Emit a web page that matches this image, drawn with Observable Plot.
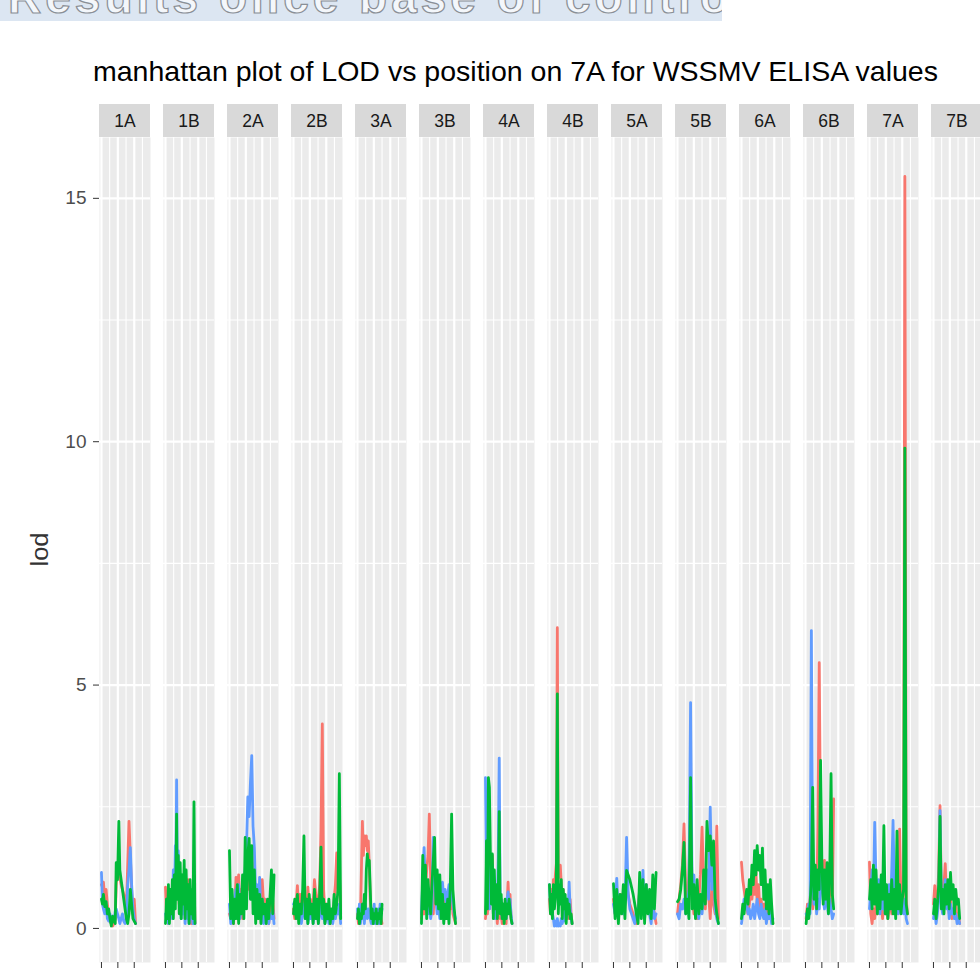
<!DOCTYPE html>
<html><head><meta charset="utf-8">
<script src="https://cdn.jsdelivr.net/npm/d3@7"></script>
<script src="https://cdn.jsdelivr.net/npm/@observablehq/plot@0.6"></script>
<style>
html,body{margin:0;padding:0;background:#fff}
body{width:980px;height:979px;overflow:hidden;position:relative;font-family:"Liberation Sans",Arial,sans-serif}
#banner{position:absolute;left:0;top:0;width:722px;height:21px;background:#dce6f2;overflow:hidden}
#banner span{position:absolute;left:8px;top:-30px;font-size:46px;font-weight:bold;letter-spacing:4px;color:#f4f7fb;-webkit-text-stroke:1.2px #8a8f96;white-space:nowrap}
#title{position:absolute;left:93px;top:58px;font-size:28px;line-height:1;color:#000;white-space:nowrap;transform-origin:0 0}
#ylab{position:absolute;left:40px;top:549px;font-size:23px;line-height:1;color:#333;white-space:nowrap}
#chart{position:absolute;left:0;top:0}
#chart svg{max-width:none}
</style></head>
<body>
<div id="banner"><span>Results once base of control</span></div>
<div id="chart"></div>
<div id="title">manhattan plot of LOD vs position on 7A for WSSMV ELISA values</div>
<div id="ylab">lod</div>
<script>
const chromosomes = ["1A","1B","2A","2B","3A","3B","4A","4B","5A","5B","6A","6B","7A","7B"];
const seriesNames = ["series 1","series 2","series 3"];
const seriesColors = ["#F8766D","#00BA38","#619CFF"];
const yTicks = [0,5,10,15];
const yMinor = [2.5,7.5,12.5];
const xTicks = [0,250,500];
const xMinor = [125,375,625];

// positions (Mb) and LOD values per chromosome: s1 = red, s2 = green, s3 = blue
const pos1A = [0,15,30,50,70,90,110,130,150,170,190,210,225,245,265,280,300,320,340,360,380,400,420,440,460,480,500,520];
const s1_1A = [0.9,0.85,0.95,0.6,0.8,0.5,0.3,0.15,0.1,0.05,0.1,0.2,0.9,1.3,1.2,1.05,0.9,0.8,0.7,0.55,0.45,1.3,2.2,1.5,0.8,0.3,0.6,0.1];
const s2_1A = [0.6,0.5,0.7,0.45,0.55,0.3,0.4,0.2,0.05,0.25,0.15,0.1,1.35,1.0,2.2,1.2,1.0,0.8,0.6,0.4,0.2,0.1,0.3,0.8,0.5,0.2,0.15,0.1];
const s3_1A = [1.15,0.5,0.4,0.3,0.55,0.2,0.15,0.3,0.1,0.25,0.15,0.35,0.4,0.3,0.2,0.1,0.2,0.3,0.15,0.1,0.2,0.9,1.2,1.66,0.9,0.4,0.2,0.1];

const pos1B = [0,15,30,45,60,75,90,105,120,135,150,160,170,180,195,210,225,240,255,270,285,300,315,330,345,360,375,390,405,420,435,450];
const s1_1B = [0.85,0.3,0.5,0.1,0.6,0.2,0.7,0.3,0.8,0.4,0.9,1.3,1.6,1.0,1.2,0.5,0.9,0.3,1.0,0.4,0.8,0.2,0.6,0.3,1.0,0.2,0.7,0.1,0.5,0.3,1.1,0.1];
const s2_1B = [0.1,0.6,0.2,0.9,0.1,0.8,0.3,1.0,0.2,1.1,0.4,1.2,2.35,0.6,1.5,0.3,1.35,0.2,1.1,0.5,1.4,0.2,1.2,0.4,0.9,0.1,1.0,0.3,0.8,0.2,2.6,0.1];
const s3_1B = [0.3,0.2,0.6,0.1,0.5,0.3,0.8,0.2,1.2,0.5,1.7,1.5,3.05,1.3,1.6,0.6,0.9,0.2,0.7,0.3,0.6,0.1,0.5,0.2,0.4,0.1,0.3,0.2,0.4,0.1,0.3,0.1];

const pos2A = [0,20,40,60,80,100,120,140,160,180,200,220,240,260,280,300,320,340,360,380,400,420,440,460,480,500,520,540,560,580,600,620,640,660,680];
const s1_2A = [0.3,0.2,0.6,0.1,0.4,1.05,0.5,1.1,0.3,0.8,0.2,0.9,0.5,1.3,0.8,1.5,1.0,1.6,0.7,1.1,0.3,0.7,0.2,0.8,0.3,1.0,0.5,0.6,0.2,0.4,0.1,0.5,0.3,0.6,0.2];
const s2_2A = [1.6,0.2,0.8,0.1,0.6,0.2,0.9,0.1,0.7,0.3,1.1,0.2,1.87,0.4,1.5,1.85,0.6,1.7,0.3,1.2,0.1,0.8,0.2,0.7,0.1,0.6,0.3,0.5,0.1,0.6,0.2,0.7,1.2,0.3,1.1];
const s3_2A = [0.5,0.1,0.4,0.2,0.6,0.8,0.3,0.9,0.2,0.5,0.4,1.0,1.2,1.7,2.7,2.3,3.0,3.55,2.1,1.65,0.6,0.9,0.3,1.05,0.2,0.6,0.1,0.4,0.2,0.5,0.1,0.3,0.2,0.4,0.1];

const pos2B = [0,20,40,60,80,100,120,140,160,180,200,220,240,260,280,300,320,340,360,380,400,420,440,460,480,500,520,540,560,580,600,620,640,660,680,700,720];
const s1_2B = [0.4,0.2,0.5,0.88,0.3,0.7,0.2,0.6,0.3,0.5,0.2,0.85,0.4,0.6,0.2,0.5,1.0,0.7,0.3,0.6,0.9,2.0,4.2,0.8,0.3,0.5,0.2,0.4,0.1,0.3,0.2,0.6,0.9,1.55,0.7,1.2,0.3];
const s2_2B = [0.3,0.6,0.2,0.7,0.1,0.5,0.3,0.8,1.9,0.2,0.6,0.1,0.7,0.3,0.5,0.1,0.8,0.2,0.6,0.1,0.7,1.67,0.3,0.6,0.1,0.5,0.2,0.6,0.1,0.4,0.2,0.7,0.3,0.5,0.8,3.18,0.2];
const s3_2B = [0.5,0.55,0.3,0.6,0.2,0.4,0.1,0.3,0.5,0.2,0.4,0.1,0.3,0.2,0.5,0.1,0.3,0.2,0.4,0.1,0.3,0.5,0.2,0.3,0.1,0.2,0.4,0.1,0.3,0.2,0.1,0.3,0.2,0.4,0.3,0.5,0.1];

const pos3A = [0,15,30,45,60,75,90,105,120,135,150,165,180,195,210,225,240,255,270,285,300,315,330,345,360,375];
const s1_3A = [0.3,0.1,0.4,0.2,1.2,2.2,1.5,1.9,1.7,1.9,1.6,1.8,1.3,0.6,0.3,0.1,0.3,0.2,0.4,0.1,0.3,0.2,0.1,0.3,0.2,0.1];
const s2_3A = [0.2,0.4,0.1,0.3,0.2,0.5,0.3,0.7,0.4,1.2,1.53,1.3,1.4,0.8,0.2,0.4,0.1,0.3,0.2,0.4,0.1,0.3,0.2,0.4,0.1,0.5];
const s3_3A = [0.4,0.2,0.5,0.1,0.3,0.2,0.4,0.1,0.5,0.3,0.2,0.4,0.3,0.2,0.1,0.3,0.2,0.5,0.1,0.3,0.2,0.4,0.1,0.5,0.3,0.4];

const pos3B = [0,20,40,60,80,100,120,140,160,180,200,220,240,260,280,300,320,340,360,380,400,420,440,460,480,500,520];
const s1_3B = [0.2,0.5,0.3,0.8,1.2,1.5,2.35,1.0,0.6,0.3,0.8,1.2,0.7,1.0,0.4,0.9,0.3,0.6,0.2,0.5,0.3,0.7,0.4,0.9,0.3,0.2,0.1];
const s2_3B = [0.1,1.5,0.4,1.3,0.2,1.0,0.6,0.3,0.9,1.4,1.87,0.5,1.2,0.4,1.1,0.2,0.7,0.1,0.5,0.2,0.6,0.1,0.9,2.35,0.8,0.4,0.1];
const s3_3B = [0.3,1.0,1.66,0.8,0.5,0.3,0.6,0.2,0.4,1.87,1.2,0.6,0.3,0.5,0.2,0.7,0.95,0.6,0.8,0.5,0.7,0.9,0.6,0.8,0.5,0.3,0.2];

const pos4A = [0,15,30,45,60,75,90,105,120,135,150,165,180,195,210,225,240,255,270,285,300,315,330,345,360,375,390,405];
const s1_4A = [0.2,0.5,0.3,0.8,0.4,1.2,0.6,1.5,0.3,0.9,0.2,0.7,0.1,0.4,0.6,0.2,0.3,0.1,0.4,0.2,0.3,0.1,0.5,0.95,0.4,0.7,0.2,0.1];
const s2_4A = [0.3,1.8,0.4,3.1,2.9,1.5,0.5,1.53,0.2,1.2,0.4,0.9,0.2,0.6,2.4,0.3,0.7,0.2,0.5,0.1,0.6,0.2,0.5,0.3,0.6,0.4,0.2,0.1];
const s3_4A = [3.1,1.2,0.5,1.0,0.4,1.5,0.7,1.3,0.3,0.8,0.2,0.6,0.3,1.5,3.5,0.4,0.6,0.2,0.5,0.3,0.4,0.2,0.6,0.75,0.4,0.6,0.3,0.1];

const pos4B = [0,15,30,45,60,75,90,105,120,135,150,165,180,195,210,225,240,255,270,285,300,315,330,345];
const s1_4B = [0.6,0.3,0.8,0.5,1.0,0.7,1.1,1.33,6.18,1.2,1.05,1.3,0.9,0.6,0.8,0.4,0.6,0.3,0.5,0.2,0.4,0.6,0.3,0.1];
const s2_4B = [0.9,0.3,0.7,0.2,0.9,0.4,0.6,1.0,4.82,0.3,0.9,0.5,1.0,0.2,0.8,0.4,0.7,0.1,0.6,0.3,0.5,0.2,0.3,0.1];
const s3_4B = [0.9,0.5,0.6,0.3,0.2,0.05,0.15,0.05,0.2,0.05,0.1,0.05,0.2,0.1,0.3,0.15,0.4,0.2,0.5,0.3,0.95,0.4,0.2,0.1];

const pos5A = [0,25,50,75,100,125,150,175,200,225,250,275,300,325,350,375,400,425,450,475,500,525,550,575,600,625,650];
const s1_5A = [0.6,0.3,0.8,0.2,0.5,0.7,0.3,0.6,0.9,0.7,0.5,0.4,0.3,0.2,0.1,0.4,0.8,0.3,0.6,0.2,0.9,0.4,0.7,0.2,0.5,0.3,0.1];
const s2_5A = [0.92,0.2,0.8,0.1,0.7,0.3,0.9,0.2,1.19,1.1,1.0,0.85,0.7,0.5,0.3,0.1,1.15,0.2,1.0,0.1,0.9,0.3,0.8,0.2,1.1,0.4,1.15];
const s3_5A = [0.5,0.3,1.03,0.2,0.6,0.4,0.3,0.5,1.87,0.7,0.4,0.3,0.2,0.1,0.4,0.2,0.8,0.3,1.19,0.2,0.9,0.5,0.3,0.1,0.6,0.2,0.3];

const pos5B = [0,25,50,75,100,125,150,175,200,225,250,275,300,325,350,375,400,425,450,475,500,525,550,575,600,625];
const s1_5B = [0.3,0.6,0.9,1.3,2.15,0.8,0.4,1.2,2.3,0.7,0.3,0.5,0.2,0.6,1.1,2.08,0.9,0.4,1.2,0.7,0.2,0.9,0.5,0.3,2.1,0.2];
const s2_5B = [0.55,0.6,0.8,1.2,1.77,0.3,0.6,0.2,3.1,0.4,0.9,0.2,1.0,0.3,0.7,0.4,1.2,0.5,2.2,1.6,1.9,1.3,1.8,0.6,0.3,0.1];
const s3_5B = [0.3,0.2,0.5,0.4,0.6,0.3,0.5,0.8,4.64,0.6,1.1,0.4,0.8,0.2,0.5,0.3,0.7,1.0,1.2,0.6,2.49,0.8,1.5,0.4,0.2,0.1];

const pos6A = [0,20,40,60,80,100,120,140,160,180,200,220,240,260,280,300,320,340,360,380,400,420,440,460,480];
const s1_6A = [1.36,1.0,0.8,0.6,0.4,0.3,0.5,0.9,0.6,1.0,0.7,1.2,0.5,0.9,0.4,0.6,0.3,0.5,0.2,0.6,0.3,0.4,0.2,0.3,0.1];
const s2_6A = [0.2,0.5,0.3,0.6,0.8,0.5,1.0,0.7,1.3,0.9,1.6,1.1,1.7,1.2,1.5,0.9,1.65,0.6,1.2,0.4,0.9,0.3,1.0,0.5,0.1];
const s3_6A = [0.1,0.3,0.6,0.4,0.5,0.3,0.4,0.2,0.3,0.5,0.2,0.4,0.6,0.3,0.2,0.5,0.3,0.2,0.4,0.1,0.3,0.2,0.4,0.1,0.2];

const pos6B = [10,30,50,70,90,110,130,150,170,190,210,230,250,270,290,310,330,350,370,390,410,430];
const s1_6B = [0.2,0.5,0.3,0.6,0.9,0.4,0.7,1.2,0.5,2.08,5.46,2.0,1.3,0.8,1.4,0.6,1.0,0.4,0.8,1.5,0.5,2.66];
const s2_6B = [0.1,0.4,0.2,0.5,1.0,2.9,0.6,1.3,0.4,1.2,0.8,3.45,1.4,0.5,1.2,0.6,1.35,0.3,1.1,3.18,0.7,0.4];
const s3_6B = [0.3,0.2,0.5,0.3,6.12,1.0,0.5,0.8,0.3,0.6,0.4,0.9,1.2,0.6,0.4,0.8,0.5,0.3,0.6,0.4,0.2,0.3];

const pos7A = [0,20,40,60,80,100,120,140,160,180,200,220,240,260,280,300,320,340,360,380,400,420,440,460,480,500,520,540,560,580];
const s1_7A = [1.36,0.3,0.1,0.4,0.2,0.5,0.3,0.8,0.4,0.6,0.2,0.7,0.3,0.5,0.2,0.4,0.6,0.3,0.9,0.4,0.7,0.3,0.5,2.04,0.6,0.4,0.8,15.45,0.6,0.3];
const s2_7A = [0.6,1.0,0.4,1.3,0.5,1.2,0.3,0.9,0.4,1.1,0.6,2.11,0.3,0.9,0.2,0.7,0.4,1.0,0.3,0.8,0.2,2.0,0.4,0.9,0.3,0.6,0.8,9.87,0.5,0.3];
const s3_7A = [0.4,0.8,1.2,0.6,2.18,0.9,0.5,1.0,0.3,0.7,0.4,0.6,0.3,0.8,0.5,0.9,0.4,1.2,2.22,0.8,0.4,0.6,0.3,0.5,0.7,0.4,0.3,0.6,0.2,0.1];

const pos7B = [0,20,40,60,80,100,120,140,160,180,200,220,240,260,280,300,320,340,360,380,400];
const s1_7B = [0.5,0.88,0.3,0.6,1.2,2.52,0.7,0.4,0.9,1.33,0.5,0.8,0.3,0.6,0.2,0.4,0.3,0.5,0.2,0.3,0.1];
const s2_7B = [0.3,0.6,0.2,0.5,0.9,2.3,0.4,0.8,0.3,0.9,0.5,1.0,0.4,1.15,0.6,0.9,0.3,0.8,0.5,0.6,0.2];
const s3_7B = [0.2,0.4,0.1,0.3,0.6,2.42,0.5,0.3,0.7,1.0,0.4,0.6,0.2,0.5,0.3,0.4,0.2,0.3,0.1,0.2,0.1];

const tables = {
  "1A":[pos1A,s1_1A,s2_1A,s3_1A], "1B":[pos1B,s1_1B,s2_1B,s3_1B],
  "2A":[pos2A,s1_2A,s2_2A,s3_2A], "2B":[pos2B,s1_2B,s2_2B,s3_2B],
  "3A":[pos3A,s1_3A,s2_3A,s3_3A], "3B":[pos3B,s1_3B,s2_3B,s3_3B],
  "4A":[pos4A,s1_4A,s2_4A,s3_4A], "4B":[pos4B,s1_4B,s2_4B,s3_4B],
  "5A":[pos5A,s1_5A,s2_5A,s3_5A], "5B":[pos5B,s1_5B,s2_5B,s3_5B],
  "6A":[pos6A,s1_6A,s2_6A,s3_6A], "6B":[pos6B,s1_6B,s2_6B,s3_6B],
  "7A":[pos7A,s1_7A,s2_7A,s3_7A], "7B":[pos7B,s1_7B,s2_7B,s3_7B]
};
const rows = [];
for (const c of chromosomes) {
  const [p, ...vals] = tables[c];
  vals.forEach((arr, k) => arr.forEach((v, i) => rows.push({chr: c, pos: p[i], lod: v, series: seriesNames[k]})));
}

const xDomain = [-30, 748];
const yDomain = [-0.7, 16.25];
const panelTop = 137, panelBottom = 962, stripPx = 33;
const pxPerLod = (panelBottom - panelTop) / (yDomain[1] - yDomain[0]);
const stripTop = yDomain[1] + stripPx / pxPerLod;

const lineFor = (name) => Plot.line(rows.filter(d => d.series === name), {
  fx: "chr", x: "pos", y: "lod", stroke: "series", strokeWidth: 2.8,
  strokeLinejoin: "round", strokeLinecap: "round"
});

const chart = Plot.plot({
  width: 1000, height: 1000,
  marginLeft: 93, marginRight: 11, marginTop: panelTop, marginBottom: 1000 - panelBottom,
  style: {fontFamily: '"Liberation Sans", Arial, sans-serif', background: "transparent", overflow: "visible", maxWidth: "none"},
  fx: {domain: chromosomes, paddingInner: 0.199, paddingOuter: 0, axis: null, label: null},
  x: {domain: xDomain},
  y: {domain: yDomain},
  color: {domain: seriesNames, range: seriesColors},
  marks: [
    Plot.frame({fill: "#ebebeb", stroke: "none"}),
    Plot.ruleY(yMinor, {stroke: "#fff", strokeWidth: 1.1}),
    Plot.ruleX(xMinor, {stroke: "#fff", strokeWidth: 1.1}),
    Plot.ruleY(yTicks, {stroke: "#fff", strokeWidth: 2.2}),
    Plot.ruleX(xTicks, {stroke: "#fff", strokeWidth: 2.2}),
    Plot.rect(chromosomes, {fx: d => d, x1: () => xDomain[0], x2: () => xDomain[1], y1: () => yDomain[1], y2: () => stripTop, fill: "#d9d9d9"}),
    Plot.text(chromosomes, {fx: d => d, x: () => (xDomain[0] + xDomain[1]) / 2, y: () => (yDomain[1] + stripTop) / 2, text: d => d, fontSize: 17.5, fill: "#1a1a1a"}),
    lineFor(seriesNames[0]),
    lineFor(seriesNames[2]),
    lineFor(seriesNames[1]),
    Plot.axisY({ticks: yTicks, tickSize: 6, tickPadding: 7, fontSize: 19, fill: "#4d4d4d", stroke: "#333", label: null}),
    Plot.axisX({ticks: xTicks, tickSize: 6, tickFormat: () => "", stroke: "#333", label: null})
  ]
});
document.getElementById("chart").appendChild(chart);

const title = document.getElementById("title");
const w = title.getBoundingClientRect().width;
title.style.transform = `scaleX(${845 / w})`;

const ylab = document.getElementById("ylab");
const r = ylab.getBoundingClientRect();
ylab.style.left = (40 - r.width / 2) + "px";
ylab.style.top = (549 - r.height / 2) + "px";
ylab.style.transform = `rotate(-90deg) scaleX(${34 / r.width})`;
</script>
</body></html>
